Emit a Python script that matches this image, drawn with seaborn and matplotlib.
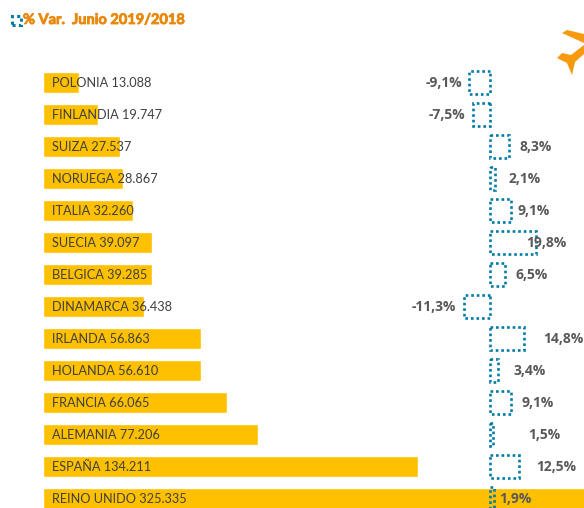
import matplotlib
matplotlib.use("Agg")
import matplotlib.pyplot as plt
import matplotlib.patheffects as pe
import pandas as pd
import seaborn as sns
from matplotlib.patches import Polygon, Rectangle

paises = ["POLONIA", "FINLANDIA", "SUIZA", "NORUEGA", "ITALIA", "SUECIA", "BELGICA",
          "DINAMARCA", "IRLANDA", "HOLANDA", "FRANCIA", "ALEMANIA", "ESPAÑA", "REINO UNIDO"]
pasajeros = [13088, 19747, 27537, 28867, 32260, 39097, 39285,
             36438, 56863, 56610, 66065, 77206, 134211, 325335]
variacion = [-9.1, -7.5, 8.3, 2.1, 9.1, 19.8, 6.5, -11.3, 14.8, 3.4, 9.1, 1.5, 12.5, 1.9]
# separacion en pixeles entre el cero y la etiqueta de cada pais
sep_etiqueta = [-28, -25, 29, 19, 27, 36, 25, -34, 53, 23, 31, 38, 46, 9]

df = pd.DataFrame({"pais": paises, "pasajeros": pasajeros, "variacion": variacion})

sns.set_theme(style="white")
plt.rcParams["font.family"] = ["Lato", "DejaVu Sans"]

W, H = 584, 508
AZUL = "#007BA7"
PUNTOS = (0, (1, 1.1))
fig = plt.figure(figsize=(W / 100, H / 100), dpi=100)

# barras naranjas
ax = fig.add_axes([0, 0, 1, 1])
sns.barplot(data=df, y="pais", x="pasajeros", color="#FFC000", saturation=1, width=0.64, ax=ax)
ax.set_xlim(-42.6 / 0.002794, (W - 42.6) / 0.002794)
ax.set_ylim((H - 82.5) / 32, -82.5 / 32)
ax.axis("off")

for i, (p, v) in enumerate(zip(paises, pasajeros)):
    txt = f"{p} {v:,}".replace(",", ".")
    ax.annotate(txt, (0, i), xytext=(6.5, -0.7), textcoords="offset points", va="center",
                fontsize=9.2, color="#404040")

# barras punteadas de variacion
ax2 = fig.add_axes([0, 0, 1, 1], facecolor="none")
sns.barplot(data=df, y="pais", x="variacion", fill=False, color=AZUL, saturation=1,
            width=0.72, linewidth=1.9, ax=ax2)
for b in ax2.patches:
    b.set_linestyle(PUNTOS)
    b.set_edgecolor(AZUL)
ax2.set_xlim(-490 / 2.3, (W - 490) / 2.3)
ax2.set_ylim((H - 82.5) / 32, -82.5 / 32)
ax2.axis("off")

for i, (s, v) in enumerate(zip(sep_etiqueta, variacion)):
    txt = f"{v:.1f}%".replace(".", ",")
    ax2.annotate(txt, (0, i), xytext=(s * 0.72, -0.7), textcoords="offset points", va="center",
                 ha="left" if v > 0 else "right", fontsize=10, fontweight="bold",
                 color="#595959", family=["Open Sans", "DejaVu Sans"])

# titulo y leyenda
fig.text(23 / W, 1 - 20 / H, "% Var.  Junio 2019/2018", fontsize=10.5, fontweight="bold",
         color="#E8890C", va="center",
         path_effects=[pe.withStroke(linewidth=0.6, foreground="#E8890C")])
fig.add_artist(Rectangle((12 / W, 1 - 25 / H), 9 / W, 9 / H, transform=fig.transFigure, fill=False,
                         edgecolor=AZUL, linewidth=2.2, linestyle=PUNTOS))

# avion de la esquina
ala = [(562, 33), (567, 30), (584, 34), (584, 43)]
cuerpo = [(584, 45), (571, 55), (562, 53), (557, 58), (567, 63), (572, 75), (575, 62), (584, 54)]
for forma in (ala, cuerpo):
    fig.add_artist(Polygon([(x / W, 1 - y / H) for x, y in forma], transform=fig.transFigure,
                           facecolor="#F79A0E", edgecolor="none"))

fig.savefig("out.png", dpi=100)
